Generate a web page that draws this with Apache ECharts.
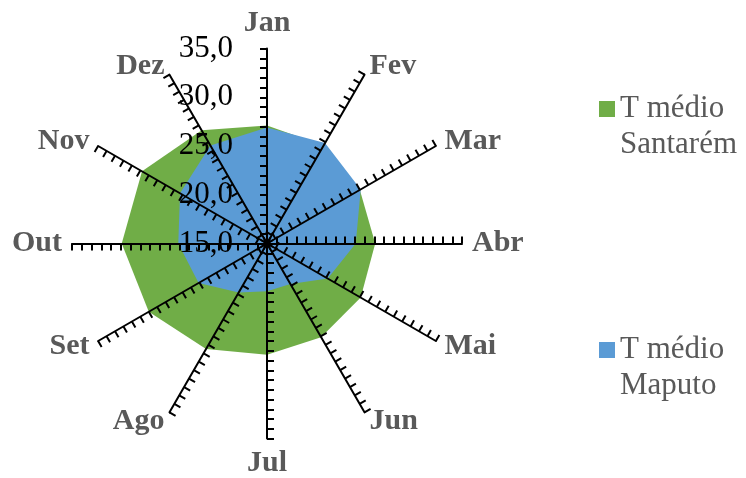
<!DOCTYPE html>
<html><head><meta charset="utf-8">
<script src="https://cdn.jsdelivr.net/npm/echarts@6/dist/echarts.min.js"></script>
<style>html,body{margin:0;padding:0;background:#fff}#c{width:746px;height:478px}</style>
</head><body><div id="c"></div>
<script>
const months = ['Jan','Fev','Mar','Abr','Mai','Jun','Jul','Ago','Set','Out','Nov','Dez'];
const santarem = [27.1,26.6,26.0,26.1,26.1,26.1,26.4,27.5,29.0,29.9,29.8,28.4];
const maputo   = [26.9,26.9,26.1,24.1,22.2,19.8,19.9,20.8,23.1,24.1,25.3,26.6];
const seriesNames = ['T médio\nSantarém','T médio\nMaputo'];
const axisMin = 15, axisMax = 35, majorStep = 5, minorStep = 1;

// ECharts radar places indicators counter-clockwise; reorder so months run clockwise
const order = [0,11,10,9,8,7,6,5,4,3,2,1];
const fmt = v => (Math.abs(v % majorStep) < 1e-9) ? v.toFixed(1).replace('.', ',') : '';

const indicators = order.map((i, k) => {
  const o = {name: months[i], min: axisMin, max: axisMax};
  if (k === 0) {
    o.axisLabel = {show: true, color: '#000', fontFamily: 'Liberation Serif', fontSize: 31, margin: 34, formatter: fmt};
  }
  return o;
});

const chart = echarts.init(document.getElementById('c'));
chart.setOption({
  animation: false,
  backgroundColor: '#fff',
  legend: {
    orient: 'vertical', left: 594, top: 50, itemWidth: 16, itemHeight: 16, itemGap: 133,
    icon: 'rect', data: seriesNames,
    formatter: name => '\n' + name,
    textStyle: {fontFamily: 'Liberation Serif', fontSize: 31, color: '#595959', lineHeight: 36}
  },
  radar: {
    center: [267, 243.5], radius: 195, startAngle: 90, shape: 'polygon',
    splitNumber: (axisMax - axisMin) / minorStep,
    z: 10,
    indicator: indicators,
    axisName: {color: '#595959', fontFamily: 'Liberation Serif', fontWeight: 'bold', fontSize: 30},
    axisNameGap: 10,
    axisLine: {show: true, lineStyle: {color: '#000', width: 2}},
    axisTick: {show: true, length: 7, lineStyle: {color: '#000', width: 2}},
    axisLabel: {show: false},
    splitLine: {show: false},
    splitArea: {show: false}
  },
  series: [{
    type: 'radar', z: 2, symbol: 'none',
    data: [
      {name: seriesNames[0], value: order.map(i => santarem[i]),
       areaStyle: {color: '#70AD47', opacity: 1}, lineStyle: {width: 0, opacity: 0}, itemStyle: {color: '#70AD47'}},
      {name: seriesNames[1], value: order.map(i => maputo[i]),
       areaStyle: {color: '#5B9BD5', opacity: 1}, lineStyle: {width: 0, opacity: 0}, itemStyle: {color: '#5B9BD5'}}
    ]
  }]
});
</script></body></html>
